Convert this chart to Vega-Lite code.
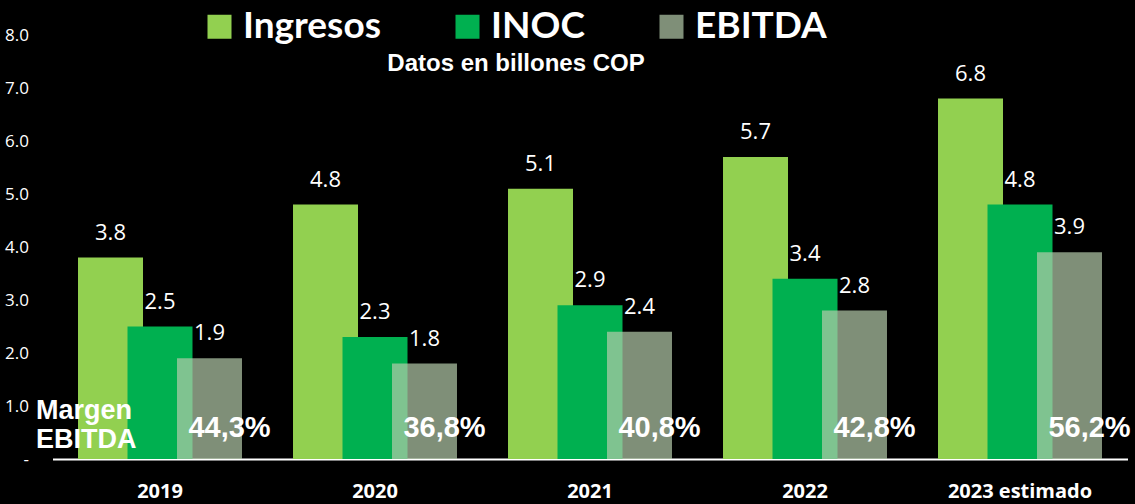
{
  "$schema": "https://vega.github.io/schema/vega-lite/v6.json",
  "width": 1075,
  "height": 424,
  "autosize": {"type": "none"},
  "padding": {"left": 52.5, "top": 35, "right": 7.5, "bottom": 45},
  "background": "#000000",
  "config": {"view": {"stroke": null}},
  "title": {
    "text": "Datos en billones COP",
    "orient": "top",
    "anchor": "middle",
    "frame": "group",
    "offset": -68,
    "dx": -74,
    "color": "#ffffff",
    "font": "Liberation Sans",
    "fontSize": 24,
    "fontWeight": "bold"
  },
  "datasets": {
    "vals": [
      {"year": "2019", "series": "Ingresos", "value": 3.8},
      {"year": "2019", "series": "INOC", "value": 2.5},
      {"year": "2019", "series": "EBITDA", "value": 1.9},
      {"year": "2020", "series": "Ingresos", "value": 4.8},
      {"year": "2020", "series": "INOC", "value": 2.3},
      {"year": "2020", "series": "EBITDA", "value": 1.8},
      {"year": "2021", "series": "Ingresos", "value": 5.1},
      {"year": "2021", "series": "INOC", "value": 2.9},
      {"year": "2021", "series": "EBITDA", "value": 2.4},
      {"year": "2022", "series": "Ingresos", "value": 5.7},
      {"year": "2022", "series": "INOC", "value": 3.4},
      {"year": "2022", "series": "EBITDA", "value": 2.8},
      {"year": "2023 estimado", "series": "Ingresos", "value": 6.8},
      {"year": "2023 estimado", "series": "INOC", "value": 4.8},
      {"year": "2023 estimado", "series": "EBITDA", "value": 3.9}
    ],
    "margins": [
      {"year": "2019", "margin": "44,3%"},
      {"year": "2020", "margin": "36,8%"},
      {"year": "2021", "margin": "40,8%"},
      {"year": "2022", "margin": "42,8%"},
      {"year": "2023 estimado", "margin": "56,2%"}
    ]
  },
  "encoding": {
    "x": {
      "field": "year",
      "type": "nominal",
      "sort": null,
      "scale": {"type": "band", "paddingInner": 0, "paddingOuter": 0},
      "axis": {
        "title": null,
        "labelAngle": 0,
        "labelColor": "#ffffff",
        "labelFont": "Open Sans",
        "labelFontSize": 20,
        "labelFontWeight": "bold",
        "labelPadding": 22,
        "ticks": false,
        "domainColor": "#ffffff",
        "domainWidth": 2,
        "grid": false
      }
    }
  },
  "layer": [
    {
      "data": {"name": "vals"},
      "mark": {"type": "bar", "width": 65},
      "encoding": {
        "xOffset": {
          "field": "series",
          "type": "nominal",
          "sort": ["Ingresos", "INOC", "EBITDA"],
          "scale": {"type": "band", "paddingInner": 0, "paddingOuter": 0.672}
        },
        "y": {
          "field": "value",
          "type": "quantitative",
          "scale": {"domain": [0, 8]},
          "axis": {
            "title": null,
            "values": [0, 1, 2, 3, 4, 5, 6, 7, 8],
            "labelExpr": "datum.value == 0 ? '-\u00a0\u00a0\u00a0' : format(datum.value, '.1f')",
            "labelColor": "#ffffff",
            "labelFont": "Open Sans",
            "labelFontSize": 17,
            "labelPadding": 24,
            "ticks": false,
            "domain": false,
            "grid": false
          }
        },
        "color": {
          "field": "series",
          "type": "nominal",
          "scale": {
            "domain": ["Ingresos", "INOC", "EBITDA"],
            "range": ["#92D050", "#00B050", "#B5CCAB"]
          },
          "legend": {
            "title": null,
            "orient": "none",
            "direction": "horizontal",
            "legendX": 148.5,
            "legendY": -27,
            "symbolType": "square",
            "symbolSize": 576,
            "symbolStrokeWidth": 0,
            "labelColor": "#ffffff",
            "labelFont": "Lato",
            "labelFontSize": 37,
            "labelFontWeight": "bold",
            "labelOffset": 5,
            "columnPadding": 68,
            "labelLimit": 300,
            "encode": {
              "symbols": {
                "update": {
                  "fillOpacity": {"signal": "datum.value === 'EBITDA' ? 0.7 : 1"}
                }
              }
            }
          }
        },
        "fillOpacity": {
          "condition": {"test": "datum.series === 'EBITDA'", "value": 0.7},
          "value": 1
        }
      }
    },
    {
      "data": {"name": "vals"},
      "mark": {
        "type": "text",
        "color": "#ffffff",
        "font": "Open Sans",
        "fontSize": 22,
        "baseline": "alphabetic",
        "dy": -18
      },
      "encoding": {
        "xOffset": {"field": "series", "type": "nominal", "sort": ["Ingresos", "INOC", "EBITDA"]},
        "y": {"field": "value", "type": "quantitative"},
        "text": {"field": "value", "type": "quantitative", "format": ".1f"}
      }
    },
    {
      "data": {"name": "margins"},
      "mark": {
        "type": "text",
        "color": "#ffffff",
        "font": "Liberation Sans",
        "fontSize": 29,
        "fontWeight": "bold",
        "baseline": "middle",
        "dx": 20
      },
      "encoding": {
        "xOffset": {"datum": "EBITDA"},
        "y": {"datum": 0.58},
        "text": {"field": "margin", "type": "nominal"}
      }
    },
    {
      "data": {"values": [{"year": "2019", "label": ["Margen", "EBITDA"]}]},
      "mark": {
        "type": "text",
        "color": "#ffffff",
        "font": "Liberation Sans",
        "fontSize": 27,
        "fontWeight": "bold",
        "align": "left",
        "baseline": "middle",
        "lineHeight": 29,
        "dx": -124
      },
      "encoding": {
        "y": {"datum": 0.9},
        "text": {"field": "label"}
      }
    }
  ]
}
